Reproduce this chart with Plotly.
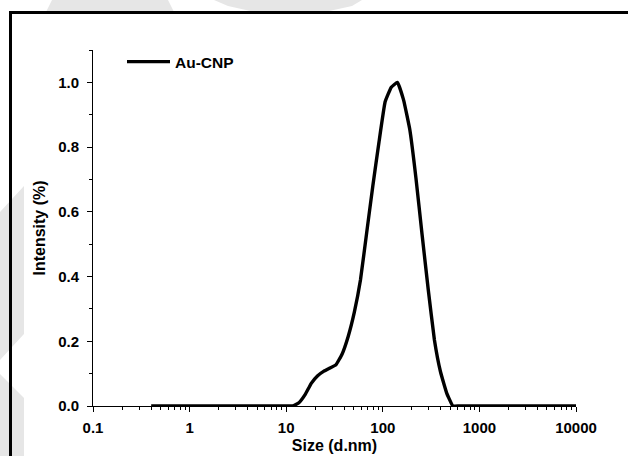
import plotly.graph_objects as go

# ---- data ----
size_nm = [0.4, 1.0, 10.1, 11.7, 13.54, 15.69, 18.17, 21.04, 24.36, 28.21, 32.67,
           37.84, 43.82, 50.75, 58.77, 68.06, 78.82, 91.28, 105.7, 122.4, 141.8,
           164.2, 190.1, 220.2, 255.0, 295.3, 342.0, 396.1, 458.7, 531.2, 615.1,
           1000.0, 10000.0]
intensity = [0.0, 0.0, 0.0, 0.0, 0.01, 0.035, 0.07, 0.093, 0.107, 0.117, 0.127,
             0.16, 0.215, 0.29, 0.39, 0.535, 0.68, 0.815, 0.94, 0.985, 1.0,
             0.945, 0.855, 0.705, 0.53, 0.36, 0.205, 0.105, 0.04, 0.0, 0.0,
             0.0, 0.0]
series_name = "Au-CNP"
x_tickvals = [0.1, 1, 10, 100, 1000, 10000]
x_ticktext = ["0.1", "1", "10", "100", "1000", "10000"]

W, H = 628, 456
L, R, T, B = 93, 52, 50, 50
PW, PH = W - L - R, H - T - B


def px(x):
    return (x - L) / PW


def py(y):
    return (H - B - y) / PH


FONT = "Liberation Sans, Arial, sans-serif"

fig = go.Figure()
fig.add_trace(go.Scatter(
    x=size_nm, y=intensity, mode="lines", name=series_name,
    line=dict(color="black", width=3.4, shape="spline", smoothing=0.3),
    showlegend=True,
))

shapes = []
gray = "#e6e6e6"


def path(points):
    s = "M " + " L ".join(f"{px(a):.5f},{py(b):.5f}" for a, b in points) + " Z"
    return s


# faint background watermark fragments
for pts in [
    [(52, 0), (168, 0), (174, 12), (46, 12)],
    [(214, 0), (362, 0), (352, 6), (320, 13), (260, 13), (228, 6)],
    [(0, 212), (24, 186), (24, 334), (0, 360)],
    [(0, 374), (24, 398), (24, 456), (0, 456)],
]:
    shapes.append(dict(type="path", xref="paper", yref="paper", path=path(pts),
                       fillcolor=gray, line=dict(width=0), layer="below"))

# black outer frame (cut off at right and bottom)
shapes.append(dict(type="rect", xref="paper", yref="paper",
                   x0=px(10.5), y0=py(12.5), x1=px(700), y1=py(520),
                   line=dict(color="black", width=3), fillcolor="rgba(0,0,0,0)",
                   layer="above"))

fig.update_layout(
    width=W, height=H,
    margin=dict(l=L, r=R, t=T, b=B, pad=0, autoexpand=False),
    paper_bgcolor="white", plot_bgcolor="rgba(0,0,0,0)",
    font=dict(family=FONT, size=15, color="black", weight="bold"),
    shapes=shapes,
    showlegend=True,
    legend=dict(x=px(122), y=py(62), xanchor="left", yanchor="middle",
                itemwidth=43, tracegroupgap=0,
                bgcolor="rgba(0,0,0,0)", borderwidth=0,
                font=dict(family=FONT, size=15.5, color="black", weight="bold")),
    xaxis=dict(
        type="log", range=[-1, 4], automargin=False,
        tickvals=x_tickvals, ticktext=x_ticktext,
        showline=True, linecolor="black", linewidth=1,
        ticks="outside", ticklen=5, tickwidth=1, tickcolor="black",
        ticklabelstandoff=3,
        minor=dict(ticks="outside", ticklen=3, tickwidth=1, tickcolor="black",
                   dtick="D1", showgrid=False),
        showgrid=False, zeroline=False, mirror=False,
        tickfont=dict(family=FONT, size=15, color="black", weight="bold"),
        title=dict(text="Size (d.nm)", standoff=4,
                   font=dict(family=FONT, size=16, color="black", weight="bold")),
    ),
    yaxis=dict(
        range=[0, 1.1], dtick=0.2, tick0=0, tickformat=".1f", automargin=False,
        showline=True, linecolor="black", linewidth=1,
        ticks="outside", ticklen=5, tickwidth=1, tickcolor="black",
        ticklabelstandoff=5,
        minor=dict(ticks="outside", ticklen=3, tickwidth=1, tickcolor="black",
                   dtick=0.1, showgrid=False),
        showgrid=False, zeroline=False, mirror=False,
        tickfont=dict(family=FONT, size=15, color="black", weight="bold"),
        title=dict(text="Intensity (%)", standoff=8,
                   font=dict(family=FONT, size=16, color="black", weight="bold")),
    ),
)

fig.write_html("out.html")
